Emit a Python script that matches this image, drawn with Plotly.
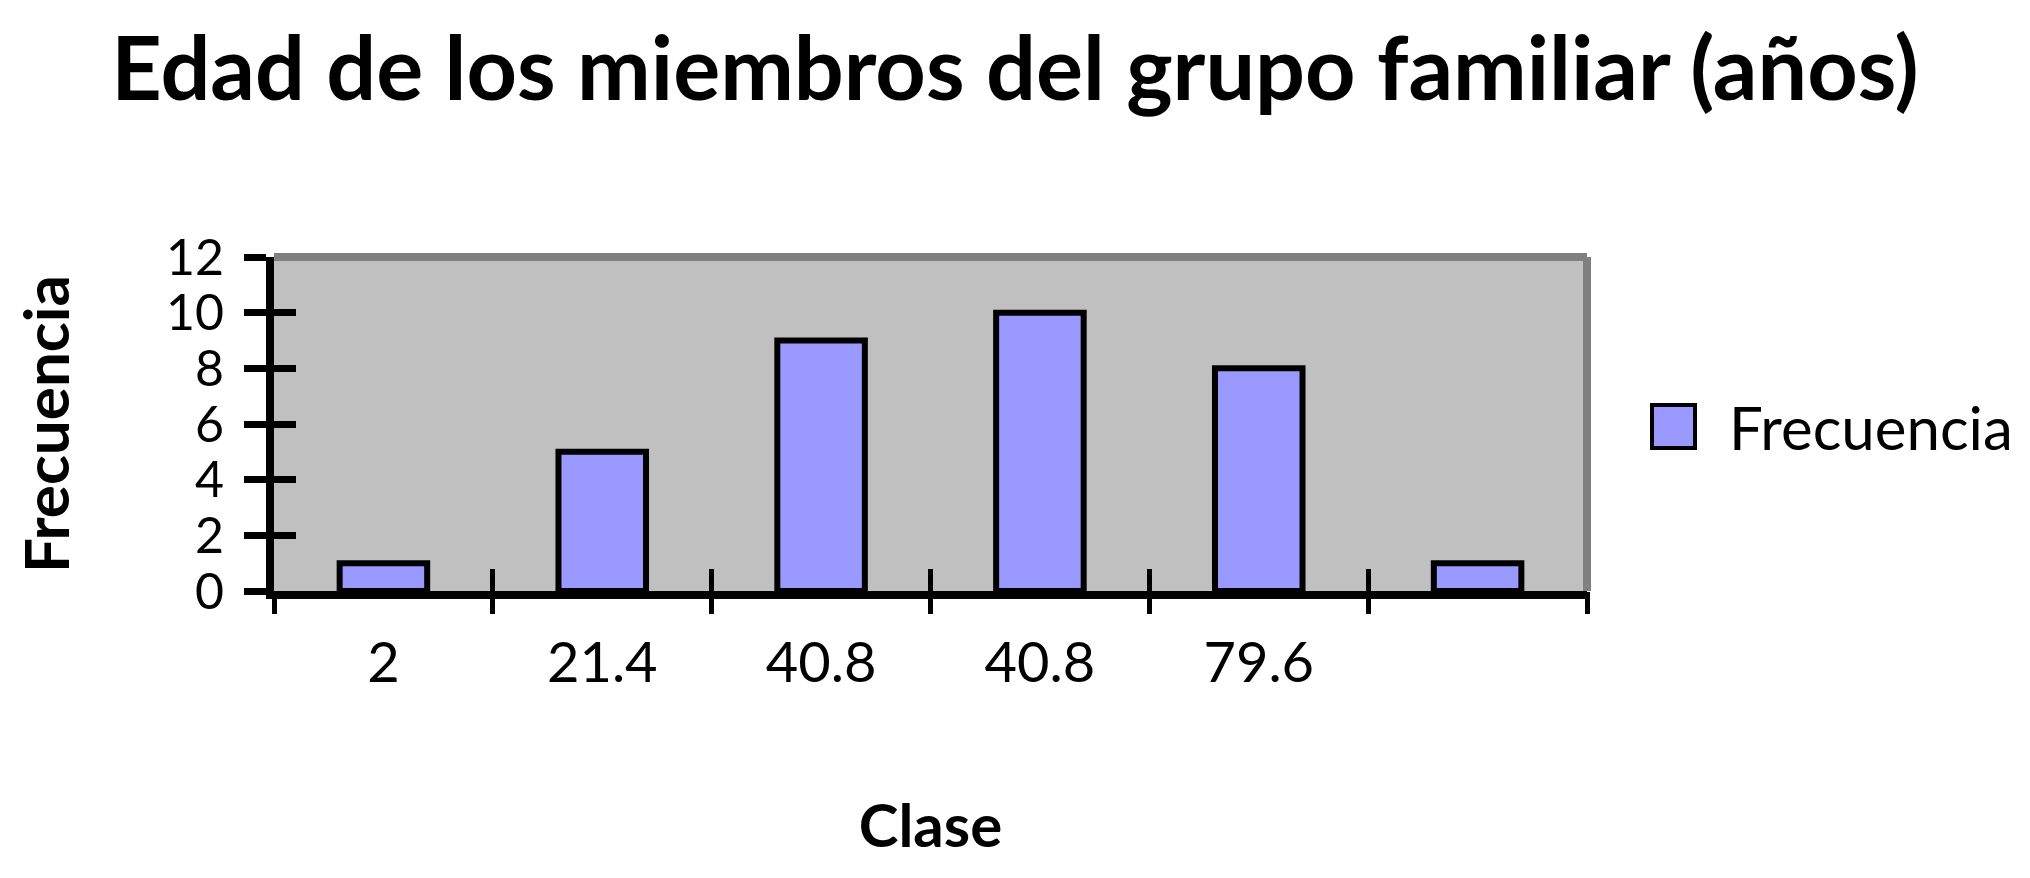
import plotly.graph_objects as go

# ---- data ----
categories = ["2", "21.4", "40.8", "40.8", "79.6", ""]
frecuencia = [1, 5, 9, 10, 8, 1]
series_name = "Frecuencia"
y_ticks = [0, 2, 4, 6, 8, 10, 12]
title_text = "Edad de los miembros del grupo familiar (años)"
x_title = "Clase"
y_title = "Frecuencia"

FONT = "Lato, 'Open Sans', sans-serif"
W, H = 2030, 878
OFF = 8  # default page margin of the html body
L, T = 274 - OFF, 257 - OFF
PW, PH = 1587 - 274, 591 - 257
R, B = W - L - PW, H - T - PH

positions = list(range(len(categories)))
boundaries = [p - 0.5 for p in positions] + [positions[-1] + 0.5]
xr = [boundaries[0], boundaries[-1]]
yr = [y_ticks[0], y_ticks[-1]]

fig = go.Figure()
fig.add_trace(go.Bar(
    x=positions, y=frecuencia, name=series_name, width=0.4,
    marker=dict(color="#9999FF", line=dict(color="black", width=6)),
    showlegend=False,
))
# empty helper traces so the overlaid tick-only axes are rendered
fig.add_trace(go.Scatter(x=[None], y=[None], xaxis="x2", yaxis="y2",
                         showlegend=False, hoverinfo="skip"))
fig.add_trace(go.Scatter(x=[None], y=[None], xaxis="x3", yaxis="y",
                         showlegend=False, hoverinfo="skip"))

xtickfont = dict(family=FONT, size=56, color="black")
ytickfont = dict(family=FONT, size=50, color="black")

tick_axis = dict(showticklabels=False, showgrid=False, zeroline=False,
                 showline=False, automargin=False, tickcolor="black",
                 tickmode="array", fixedrange=True)

fig.update_layout(
    width=W, height=H,
    margin=dict(l=L, r=R, t=T, b=B, pad=0, autoexpand=False),
    paper_bgcolor="white", plot_bgcolor="#C0C0C0",
    title=dict(text=f"<b>{title_text}</b>", x=(1015 - OFF) / W, xanchor="center",
               y=1 - 61 / H, yanchor="middle",
               font=dict(family=FONT, size=88, color="black")),
    xaxis=dict(range=xr, tickmode="array", tickvals=positions, ticktext=categories,
               ticks="", showgrid=False, zeroline=False, automargin=False,
               showline=True, linecolor="black", linewidth=8,
               tickfont=xtickfont, ticklabelstandoff=16,
               title=dict(text=f"<b>{x_title}</b>", standoff=115,
                          font=dict(family=FONT, size=60, color="black"))),
    xaxis2=dict(overlaying="x", anchor="y", side="bottom", range=xr,
                tickvals=boundaries, ticks="outside", ticklen=22, tickwidth=5,
                **tick_axis),
    xaxis3=dict(overlaying="x", anchor="y", side="bottom", range=xr,
                tickvals=boundaries, ticks="inside", ticklen=22, tickwidth=5,
                **tick_axis),
    yaxis=dict(range=yr, tickmode="array", tickvals=y_ticks,
               ticks="outside", ticklen=22, tickwidth=7, tickcolor="black",
               showgrid=False, zeroline=False, automargin=False,
               showline=True, linecolor="black", linewidth=8,
               tickfont=ytickfont, ticklabelstandoff=10,
               title=dict(text=f"<b>{y_title}</b>", standoff=95,
                          font=dict(family=FONT, size=62, color="black"))),
    yaxis2=dict(overlaying="y", anchor="x", side="left", range=yr,
                tickvals=y_ticks, ticks="inside", ticklen=22, tickwidth=7,
                **tick_axis),
)

# gray top/right plot border
fig.add_shape(type="line", xref="paper", yref="paper", x0=0, x1=1, y0=1, y1=1,
              line=dict(color="#808080", width=8), layer="below")
fig.add_shape(type="line", xref="paper", yref="paper", x0=1, x1=1, y0=0, y1=1,
              line=dict(color="#808080", width=8), layer="below")

# legend (drawn manually so the key matches the reference's size)
def px_x(v): return (v - OFF - L) / PW
def px_y(v): return (T + PH - (v - OFF)) / PH
fig.add_shape(type="rect", xref="paper", yref="paper",
              x0=px_x(1652), x1=px_x(1695), y0=px_y(448), y1=px_y(405),
              fillcolor="#9999FF", line=dict(color="black", width=4))
fig.add_annotation(xref="paper", yref="paper", x=px_x(1727), y=px_y(427),
                   xanchor="left", yanchor="middle", showarrow=False,
                   text=series_name, font=dict(family=FONT, size=60, color="black"))

fig.write_html("out.html")
